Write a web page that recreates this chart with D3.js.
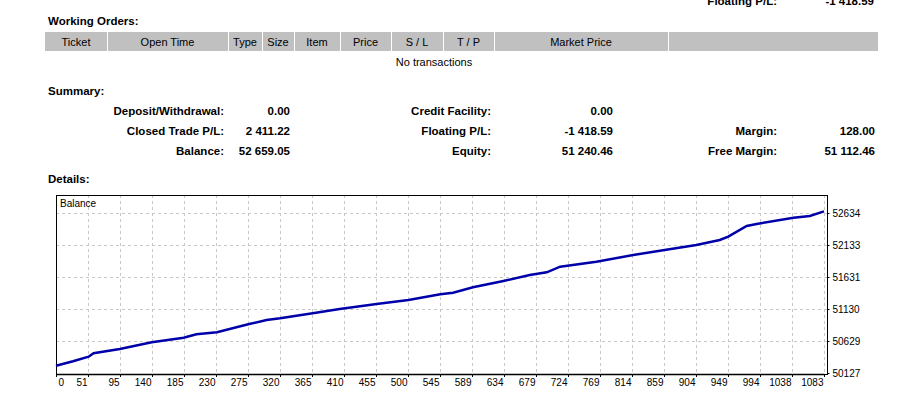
<!DOCTYPE html>
<html>
<head>
<meta charset="utf-8">
<script src="https://cdn.jsdelivr.net/npm/d3@7"></script>
<style>
  body { margin: 0; background: #fff; }
  svg { display: block; font-family: "Liberation Sans", Arial, sans-serif; }
  .bold { font-weight: bold; }
  .grid line { stroke: #c8c8c8; stroke-dasharray: 3,3; }
  .axis text { font-size: 10px; fill: #000; }
  .axis path, .axis line { stroke: #000; }
</style>
</head>
<body>
<svg id="page"></svg>
<script>
// table header of working orders
const orderColumns = ["Ticket", "Open Time", "Type", "Size", "Item", "Price", "S / L", "T / P", "Market Price", ""];
const emptyMessage = "No transactions";

// summary block, three groups of label / value
const summaryLabels = [
  ["Deposit/Withdrawal:", "Closed Trade P/L:", "Balance:"],
  ["Credit Facility:", "Floating P/L:", "Equity:"],
  ["", "Margin:", "Free Margin:"]
];
const summaryValues = [
  ["0.00", "2 411.22", "52 659.05"],
  ["0.00", "-1 418.59", "51 240.46"],
  ["", "128.00", "51 112.46"]
];

// balance curve (trade number, balance)
const balanceTrade = [0, 24, 46, 53, 90, 135, 180, 198, 227, 271, 297, 316, 362, 400, 452, 497,
  542, 560, 588, 631, 668, 692, 711, 762, 814, 856, 903, 936, 948, 974, 988, 1040, 1063, 1083];
const balanceValue = [50241, 50310, 50382, 50436, 50503, 50608, 50680, 50733, 50765, 50890, 50957,
  50984, 51062, 51130, 51208, 51271, 51360, 51385, 51470, 51569, 51663, 51705, 51793, 51871,
  51976, 52050, 52133, 52211, 52263, 52430, 52462, 52561, 52587, 52659];

const xTickLabels = [0, 51, 95, 140, 185, 230, 275, 320, 365, 410, 455, 500, 545, 589, 634, 679,
  724, 769, 814, 859, 904, 949, 994, 1038, 1083];
const yTickValues = [50127, 50629, 51130, 51631, 52133, 52634];

const svg = d3.select("#page").attr("width", 917).attr("height", 394);

const boldSize = 11.5;

// ---- top part (text blocks) ----
// cut off line from the block above
svg.append("text").attr("class", "bold").attr("font-size", boldSize)
  .attr("x", 777).attr("y", 5).attr("text-anchor", "end").text("Floating P/L:");
svg.append("text").attr("class", "bold").attr("font-size", boldSize)
  .attr("x", 874).attr("y", 5).attr("text-anchor", "end").text("-1 418.59");

svg.append("text").attr("class", "bold").attr("font-size", boldSize)
  .attr("x", 48).attr("y", 25).text("Working Orders:");

// header band
const colEdges = [45, 107, 228, 262, 294, 340, 391, 443, 494, 668, 878];
const header = svg.append("g");
header.selectAll("rect")
  .data(orderColumns)
  .join("rect")
  .attr("x", (d, i) => colEdges[i] + (i ? 1 : 0))
  .attr("y", 32)
  .attr("width", (d, i) => colEdges[i + 1] - colEdges[i] - (i ? 1 : 0))
  .attr("height", 19)
  .attr("fill", "#c0c0c0");
header.selectAll("text")
  .data(orderColumns)
  .join("text")
  .attr("x", (d, i) => (colEdges[i] + colEdges[i + 1]) / 2)
  .attr("y", 46)
  .attr("text-anchor", "middle")
  .attr("font-size", 11)
  .text(d => d);

svg.append("text").attr("font-size", 11)
  .attr("x", 434).attr("y", 66).attr("text-anchor", "middle").text(emptyMessage);

svg.append("text").attr("class", "bold").attr("font-size", boldSize)
  .attr("x", 48).attr("y", 95).text("Summary:");

const labelRight = [224, 491, 777];
const valueRight = [290, 613, 875];
const rowY = [115, 135, 155];
summaryLabels.forEach((group, g) => {
  group.forEach((lab, r) => {
    svg.append("text").attr("class", "bold").attr("font-size", boldSize)
      .attr("x", labelRight[g]).attr("y", rowY[r]).attr("text-anchor", "end").text(lab);
    svg.append("text").attr("class", "bold").attr("font-size", boldSize)
      .attr("x", valueRight[g]).attr("y", rowY[r]).attr("text-anchor", "end").text(summaryValues[g][r]);
  });
});

svg.append("text").attr("class", "bold").attr("font-size", boldSize)
  .attr("x", 48).attr("y", 183).text("Details:");

// ---- balance chart ----
const margin = { left: 56, top: 195 };
const width = 771, height = 179;
const plotW = 768;

const chart = svg.append("g").attr("transform", `translate(${margin.left},${margin.top})`);

const xScale = d3.scaleLinear().domain([0, 1083]).range([0, plotW]);
const xTickScale = d3.scalePoint().domain(xTickLabels).range([0, plotW]);
const yScale = d3.scaleLinear().domain([50127, 52634]).range([178, 18]);

// grid
chart.append("g").attr("class", "grid")
  .selectAll("line.v")
  .data(xTickLabels.slice(1))
  .join("line")
  .attr("x1", d => xTickScale(d) + 0.5).attr("x2", d => xTickScale(d) + 0.5)
  .attr("y1", 0).attr("y2", height);
chart.append("g").attr("class", "grid")
  .selectAll("line.h")
  .data(yTickValues.slice(1))
  .join("line")
  .attr("x1", 0).attr("x2", width)
  .attr("y1", d => Math.round(yScale(d)) + 0.5).attr("y2", d => Math.round(yScale(d)) + 0.5);

// frame
chart.append("rect")
  .attr("x", 0.5).attr("y", 0.5)
  .attr("width", width).attr("height", height)
  .attr("fill", "none").attr("stroke", "#000");

chart.append("text")
  .attr("x", 4).attr("y", 12)
  .attr("font-size", 10)
  .text("Balance");

// balance line
const line = d3.line()
  .x((d, i) => xScale(balanceTrade[i]))
  .y(d => yScale(d));
chart.append("path")
  .datum(balanceValue)
  .attr("fill", "none")
  .attr("stroke", "#0000aa")
  .attr("stroke-width", 2.5)
  .attr("d", line);

// x axis
const xAxisG = chart.append("g")
  .attr("class", "axis x-axis")
  .attr("transform", `translate(0,${height})`)
  .call(d3.axisBottom(xTickScale).tickSize(3).tickSizeOuter(0));
xAxisG.select(".domain").attr("stroke-width", 1.5);
xAxisG.selectAll(".tick text")
  .attr("y", 5)
  .attr("dx", (d, i) => (i === 0 ? 2 : -1))
  .attr("text-anchor", (d, i) => (i === 0 ? "start" : "end"));

// y axis on the right
const yAxisG = chart.append("g")
  .attr("class", "axis y-axis")
  .attr("transform", `translate(${width + 0.5},0)`)
  .call(d3.axisRight(yScale).tickValues(yTickValues).tickFormat(d3.format("d")).tickSize(2).tickSizeOuter(0));
yAxisG.select(".domain").remove();
yAxisG.selectAll(".tick text").attr("x", 5);
</script>
</body>
</html>
